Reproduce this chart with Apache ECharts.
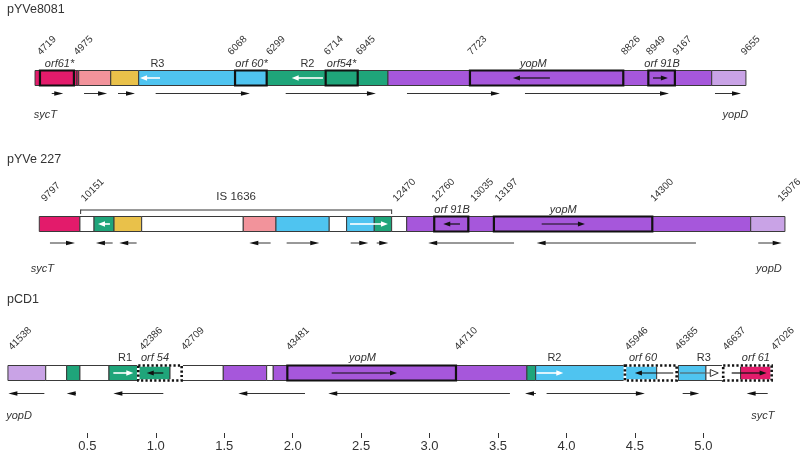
<!DOCTYPE html>
<html><head><meta charset="utf-8">
<script src="https://cdn.jsdelivr.net/npm/echarts@6/dist/echarts.min.js"></script>
<style>html,body{margin:0;padding:0;background:#fff}#c{width:800px;height:459px}</style>
</head><body><div id="c"></div>
<script>
// ---------- DATA (positions in kb on the common scale) ----------
const plasmids = ['pYVe8081', 'pYVe 227', 'pCD1'];
const axisTicks = [0.5, 1.0, 1.5, 2.0, 2.5, 3.0, 3.5, 4.0, 4.5, 5.0];

// pYVe8081
const seg0 = [['red',0.118,0.424],['red',0.424,0.437],['pink',0.437,0.671],['yellow',0.671,0.875],['blue',0.875,1.810],['green',1.810,2.696],['purple',2.696,5.061],['lilac',5.061,5.311]];
const genes0 = [[0.154,0.402],[1.579,1.810],[2.241,2.475],[3.295,4.415],[4.598,4.792]];
const inner0 = [[1.031,0.885,'w'],[2.221,1.993,'w'],[3.879,3.609,'k'],[4.632,4.741,'k']];
const tx0 = [[0.240,0.324],[0.476,0.644],[0.724,0.848],[0.999,1.688],[1.949,2.608],[2.835,3.514],[3.697,4.749],[5.085,5.275]];
const names0 = [['orf61*',0.297],['R3',1.012],['orf 60*',1.699],['R2',2.108],['orf54*',2.357],['yopM',3.758],['orf 91B',4.698]];
const pos0 = [['4719',0.125],['4975',0.393],['6068',1.518],['6299',1.798],['6714',2.221],['6945',2.455],['7723',3.271],['8826',4.391],['8949',4.574],['9167',4.768],['9655',5.267]];
const flank0 = [['sycT',0.194],['yopD',5.234]];

// pYVe 227
const seg1 = [['red',0.149,0.446],['white',0.446,0.549],['green',0.549,0.695],['yellow',0.695,0.897],['white',0.897,1.639],['pink',1.639,1.878],['blue',1.878,2.267],['white',2.267,2.394],['blue',2.394,2.596],['green',2.596,2.723],['white',2.723,2.833],['purple',2.833,5.346],['lilac',5.346,5.596]];
const genes1 = [[3.034,3.283],[3.470,4.627]];
const inner1 = [[0.665,0.578,'w'],[2.419,2.696,'w'],[3.222,3.100,'k'],[3.819,4.135,'k']];
const tx1 = [[0.227,0.410],[0.685,0.563],[0.860,0.733],[1.839,1.683],[1.956,2.194],[2.424,2.552],[2.614,2.698],[3.617,2.990],[4.946,3.782],[5.401,5.572]];
const names1 = [['orf 91B',3.164],['yopM',3.977]];
const pos1 = [['9797',0.154],['10151',0.446],['12470',2.723],['12760',3.008],['13035',3.290],['13197',3.470],['14300',4.605],['15076',5.535]];
const flank1 = [['sycT',0.172],['yopD',5.479]];
const isElement = ['IS 1636', 0.451, 2.723];

// pCD1
const seg2 = [['lilac',-0.080,0.196],['white',0.196,0.349],['green',0.349,0.446],['white',0.446,0.658],['green',0.658,0.872],['green',0.872,1.104],['white',1.104,1.493],['purple',1.493,1.810],['white',1.810,1.858],['purple',1.858,3.193],['purple',3.193,3.711],['green',3.711,3.775],['blue',3.775,4.427],['blue',4.427,4.659],['white',4.659,4.817],['blue',4.817,5.019],['white',5.019,5.272],['red',5.272,5.499]];
const genes2 = [[1.961,3.193]];
const dotted2 = [[0.872,1.189],[4.427,4.805],[5.145,5.499]];
const inner2 = [[0.690,0.836,'w'],[1.055,0.934,'k'],[2.285,2.762,'k'],[3.782,3.977,'w'],[4.780,4.500,'k'],[4.829,5.109,'h'],[5.207,5.462,'k']];
const tx2 = [[0.186,-0.077],[0.417,0.349],[1.055,0.690],[2.090,1.603],[3.587,2.260],[3.777,3.697],[3.855,4.573],[4.849,4.970],[5.470,5.316]];
const names2 = [['R1',0.775],['orf 54',0.994],['yopM',2.510],['R2',3.912],['orf 60',4.559],['R3',5.004],['orf 61',5.384]];
const pos2 = [['41538',-0.085],['42386',0.872],['42709',1.177],['43481',1.944],['44710',3.173],['45946',4.420],['46365',4.785],['46637',5.134],['47026',5.487]];
const flank2 = [['yopD',0.001],['sycT',5.434]];

// ---------- LAYOUT / STYLE ----------
const COLORS = {red:'#e31b6b', pink:'#f2939b', yellow:'#e9c14a', blue:'#4fc4f0', green:'#1fa57a', purple:'#a657db', lilac:'#c9a3e6', white:'#ffffff'};
const ROW_TOP = [70.5, 216.5, 365.5];
const BAR_H = 15;
const NAME_Y = [64, 209.5, 358];
const NUM_Y = [57, 203.5, 352];
const NUM_DX = 6.5;
const TX_Y = [93.5, 243, 393.5];
const FLANK_Y = [115, 268.5, 416];
const TITLE_Y = [3, 153, 293];
const TEXT = '#333';
const FONT = '"Liberation Sans", Arial, Helvetica, sans-serif';

function tag(list) { return list.flatMap((arr, r) => arr.map(d => ({d: d, r: r}))); }
const segItems = tag([seg0, seg1, seg2]);
const geneItems = tag([genes0, genes1, genes2]);
const dotItems = tag([[], [], dotted2]);
const innerItems = tag([inner0, inner1, inner2]);
const txItems = tag([tx0, tx1, tx2]);
const nameItems = tag([names0, names1, names2]);
const posItems = tag([pos0, pos1, pos2]);
const flankItems = tag([flank0, flank1, flank2]);

function rectFor(api, x1, x2, r) {
  const a = api.coord([x1, ROW_TOP[r]]);
  const b = api.coord([x2, ROW_TOP[r] + BAR_H]);
  return {x: a[0], y: a[1], width: b[0] - a[0], height: b[1] - a[1]};
}
function arrowEl(api, x1, x2, y, o) {
  const a = api.coord([x1, y]), b = api.coord([x2, y]);
  const dir = Math.sign(b[0] - a[0]) || 1;
  const base = b[0] - dir * o.hl;
  return {type: 'group', children: [
    {type: 'line', shape: {x1: a[0], y1: a[1], x2: base + dir * 1, y2: b[1]}, style: {stroke: o.color, lineWidth: o.lw}},
    {type: 'polygon', shape: {points: [[b[0], b[1]], [base, b[1] - o.hw], [base, b[1] + o.hw]]},
     style: {fill: o.fill, stroke: o.headStroke || null, lineWidth: o.headStroke ? 1 : 0}}
  ]};
}
const ITALIC_EXCEPT = /^(R\d|IS)/;

const series = [
  {type: 'custom', silent: true, data: segItems.map(it => [it.d[1], it.d[2]]),
   renderItem: (p, api) => { const it = segItems[p.dataIndex];
     return {type: 'rect', shape: rectFor(api, it.d[1], it.d[2], it.r), style: {fill: COLORS[it.d[0]], stroke: '#3a3a3a', lineWidth: 1}}; }},
  {type: 'custom', silent: true, data: geneItems.map(it => [it.d[0], it.d[1]]),
   renderItem: (p, api) => { const it = geneItems[p.dataIndex];
     return {type: 'rect', shape: rectFor(api, it.d[0], it.d[1], it.r), style: {fill: 'none', stroke: '#111', lineWidth: 2.2}}; }},
  {type: 'custom', silent: true, data: dotItems.map(it => [it.d[0], it.d[1]]),
   renderItem: (p, api) => { const it = dotItems[p.dataIndex]; const s = rectFor(api, it.d[0], it.d[1], it.r);
     return {type: 'group', children: [
       {type: 'rect', shape: s, style: {fill: 'none', stroke: '#fff', lineWidth: 2.6}},
       {type: 'rect', shape: s, style: {fill: 'none', stroke: '#111', lineWidth: 2.6, lineDash: [2.2, 2.2]}}
     ]}; }},
  {type: 'custom', silent: true, data: innerItems.map(it => [it.d[0], it.d[1]]),
   renderItem: (p, api) => { const it = innerItems[p.dataIndex]; const y = ROW_TOP[it.r] + BAR_H / 2; const k = it.d[2];
     if (k === 'w') return arrowEl(api, it.d[0], it.d[1], y, {color: '#fff', fill: '#fff', lw: 1.6, hl: 7, hw: 2.8});
     if (k === 'h') return arrowEl(api, it.d[0], it.d[1], y, {color: '#555', fill: '#fff', headStroke: '#333', lw: 1.2, hl: 8, hw: 3.5});
     return arrowEl(api, it.d[0], it.d[1], y, {color: '#111', fill: '#111', lw: 1.2, hl: 7, hw: 2.5}); }},
  {type: 'custom', silent: true, data: txItems.map(it => [it.d[0], it.d[1]]),
   renderItem: (p, api) => { const it = txItems[p.dataIndex];
     return arrowEl(api, it.d[0], it.d[1], TX_Y[it.r], {color: '#333', fill: '#111', lw: 1, hl: 9, hw: 2.3}); }},
  {type: 'custom', silent: true, data: nameItems.map(it => [it.d[1], it.d[1]]),
   renderItem: (p, api) => { const it = nameItems[p.dataIndex]; const c = api.coord([it.d[1], NAME_Y[it.r]]);
     const plain = ITALIC_EXCEPT.test(it.d[0]);
     return {type: 'text', x: c[0], y: c[1], style: {text: it.d[0], fill: TEXT, fontSize: 11, fontStyle: plain ? 'normal' : 'italic', fontFamily: FONT, align: 'center', verticalAlign: 'middle'}}; }},
  {type: 'custom', silent: true, data: flankItems.map(it => [it.d[1], it.d[1]]),
   renderItem: (p, api) => { const it = flankItems[p.dataIndex]; const c = api.coord([it.d[1], FLANK_Y[it.r]]);
     return {type: 'text', x: c[0], y: c[1], style: {text: it.d[0], fill: TEXT, fontSize: 11, fontStyle: 'italic', fontFamily: FONT, align: 'center', verticalAlign: 'middle'}}; }},
  {type: 'custom', silent: true, data: posItems.map(it => [it.d[1], it.d[1]]),
   renderItem: (p, api) => { const it = posItems[p.dataIndex]; const c = api.coord([it.d[1], NUM_Y[it.r]]);
     return {type: 'text', x: c[0] + NUM_DX, y: c[1], rotation: Math.PI / 4, style: {text: it.d[0], fill: TEXT, fontSize: 10, fontFamily: FONT, align: 'left', verticalAlign: 'bottom'}}; }},
  {type: 'custom', silent: true, data: [[isElement[1], isElement[2]]],
   renderItem: (p, api) => { const y = 210; const a = api.coord([isElement[1], y]), b = api.coord([isElement[2], y]);
     const st = {stroke: '#333', lineWidth: 1};
     return {type: 'group', children: [
       {type: 'line', shape: {x1: a[0], y1: y, x2: b[0], y2: y}, style: st},
       {type: 'line', shape: {x1: a[0], y1: y - 0.5, x2: a[0], y2: y + 4}, style: st},
       {type: 'line', shape: {x1: b[0], y1: y - 0.5, x2: b[0], y2: y + 4}, style: st},
       {type: 'text', x: (a[0] + b[0]) / 2, y: 197, style: {text: isElement[0], fill: TEXT, fontSize: 11.5, fontFamily: FONT, align: 'center', verticalAlign: 'middle'}}
     ]}; }}
];

const chart = echarts.init(document.getElementById('c'), null, {renderer: 'canvas'});
chart.setOption({
  animation: false,
  backgroundColor: '#fff',
  title: plasmids.map((t, i) => ({text: t, left: 7, top: TITLE_Y[i], padding: 0,
    textStyle: {fontSize: 12.5, fontWeight: 'normal', color: TEXT, fontFamily: FONT}})),
  grid: {left: 0, right: 0, top: 0, bottom: 26},
  xAxis: {type: 'value', min: -0.138, max: 5.706, position: 'bottom',
    splitLine: {show: false}, axisLine: {show: false, onZero: false},
    axisTick: {show: true, customValues: axisTicks, length: 5, lineStyle: {color: '#333', width: 1}},
    axisLabel: {show: true, customValues: axisTicks, margin: 7, fontSize: 13, color: TEXT, fontFamily: FONT,
      formatter: v => v.toFixed(1)}},
  yAxis: {type: 'value', min: 0, max: 433, inverse: true, show: false},
  series: series
});
</script></body></html>
